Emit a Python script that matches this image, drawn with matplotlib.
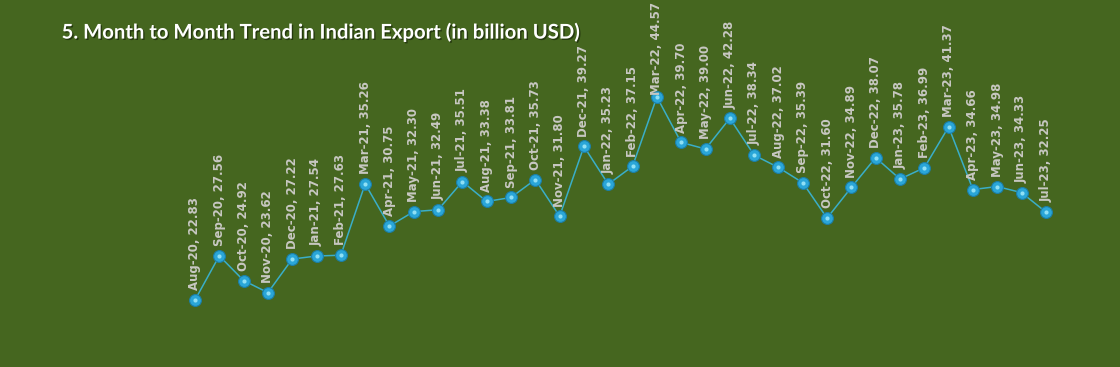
import matplotlib.pyplot as plt
import matplotlib.patheffects as pe

months = ['Aug-20', 'Sep-20', 'Oct-20', 'Nov-20', 'Dec-20', 'Jan-21', 'Feb-21', 'Mar-21',
          'Apr-21', 'May-21', 'Jun-21', 'Jul-21', 'Aug-21', 'Sep-21', 'Oct-21', 'Nov-21',
          'Dec-21', 'Jan-22', 'Feb-22', 'Mar-22', 'Apr-22', 'May-22', 'Jun-22', 'Jul-22',
          'Aug-22', 'Sep-22', 'Oct-22', 'Nov-22', 'Dec-22', 'Jan-23', 'Feb-23', 'Mar-23',
          'Apr-23', 'May-23', 'Jun-23', 'Jul-23']
exports = [22.83, 27.56, 24.92, 23.62, 27.22, 27.54, 27.63, 35.26,
           30.75, 32.30, 32.49, 35.51, 33.38, 33.81, 35.73, 31.80,
           39.27, 35.23, 37.15, 44.57, 39.70, 39.00, 42.28, 38.34,
           37.02, 35.39, 31.60, 34.89, 38.07, 35.78, 36.99, 41.37,
           34.66, 34.98, 34.33, 32.25]

bg = '#45661f'
fig = plt.figure(figsize=(11.2, 3.67), dpi=100, facecolor=bg)
ax = fig.add_axes([0, 0, 1, 1])
ax.set_facecolor(bg)

x = list(range(len(months)))
ax.plot(x, exports, color='#3aaec8', linewidth=1.1, zorder=2)
ax.plot(x, exports, linestyle='none', marker='o', markersize=8.5,
        markerfacecolor='#2aa6d8', markeredgecolor='#1b7fa8', markeredgewidth=0.8, zorder=3)
# small highlight on the markers
ax.plot(x, exports, linestyle='none', marker='o', markersize=3,
        markerfacecolor='#8fe0f5', markeredgewidth=0, zorder=4)

ax.set_xlim(-8.02, 38.05)
ax.set_ylim(15.66, 54.95)
ax.axis('off')

labels = []
for i, (m, v) in enumerate(zip(months, exports)):
    t = ax.annotate(f'{m}, {v:.2f}', (i, v), xytext=(0, 7), textcoords='offset points',
                    rotation=90, ha='center', va='bottom', fontsize=8.5, fontweight='bold',
                    color='#c8c8c2', zorder=5)
    labels.append(t)

# push labels that run past the top edge back down, like the original
fig.canvas.draw()
r = fig.canvas.get_renderer()
H = fig.bbox.height
for t in labels:
    bb = t.get_window_extent(r)
    if bb.y1 > H - 2:
        over = (bb.y1 - (H - 2)) * 72 / fig.dpi
        t.set_position((0, 7 - over))
        t.set_zorder(6)

fig.text(0.055, 0.912, '5. Month to Month Trend in Indian Export (in billion USD)',
         fontsize=14.6, fontweight='bold', family='Lato', color='white', va='center', ha='left',
         path_effects=[pe.withSimplePatchShadow(offset=(1, -1), shadow_rgbFace='#1e2e0c', alpha=0.8)])

fig.savefig('out.png', dpi=100, facecolor=bg)
